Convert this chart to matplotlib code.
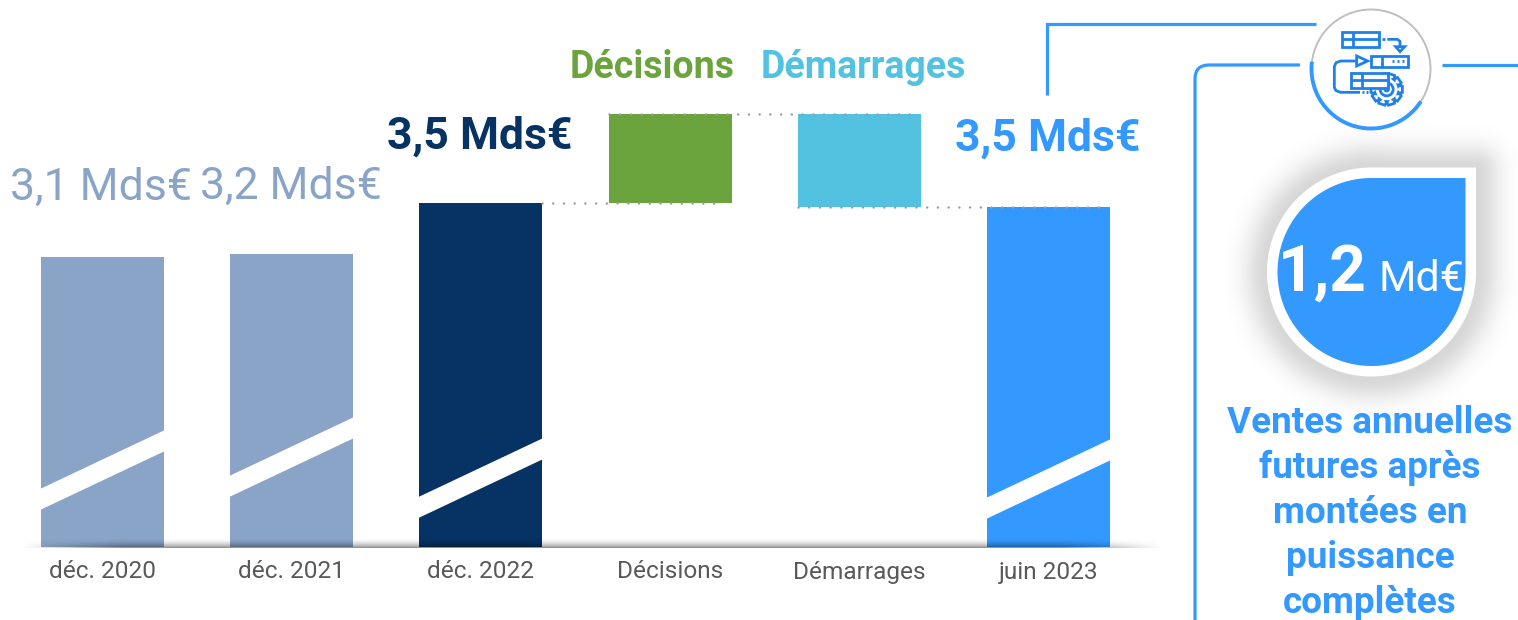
import numpy as np
import matplotlib
matplotlib.use("Agg")
import matplotlib.pyplot as plt
from matplotlib.patches import Polygon, Rectangle, Circle, Arc, PathPatch
from matplotlib.path import Path
from matplotlib.transforms import blended_transform_factory

plt.rcParams["font.family"] = ["Roboto", "DejaVu Sans"]

# Data
categories = ["déc. 2020", "déc. 2021", "déc. 2022", "Décisions", "Démarrages", "juin 2023"]
bar_heights = [3.14, 3.16, 3.50, 0.594, 0.62, 3.474]
bar_bottoms = [None, None, None, 3.50, 3.474, None]
bar_colors = ["#8AA4C8", "#8AA4C8", "#063264", "#6BA43C", "#52C2E0", "#3399FF"]
value_labels = ["3,1 Mds€", "3,2 Mds€", "3,5 Mds€", "3,5 Mds€"]
legend_labels = ["Décisions", "Démarrages"]
kpi_value = "1,2"
kpi_unit = "Md€"
kpi_text = ["Ventes annuelles", "futures après", "montées en", "puissance", "complètes"]

BLUE = "#3399FF"
ICON = "#1F80E8"
DOT = "#9C9C9C"

W, H = 1518, 620
fig = plt.figure(figsize=(W / 100, H / 100), dpi=100)

# chart axes, fills the figure; the y axis is cut so it starts at 1.207
ax = fig.add_axes([0, 0, 1, 1])
ax.set_xlim(-102.5 / 189.2, (W - 102.5) / 189.2)
ax.set_ylim(1.207 - 73 / 150, 1.207 + 547 / 150)
ax.axis("off")

# overlay in pixels for the decoration
px = fig.add_axes([0, 0, 1, 1], facecolor="none")
px.axis("off")

x = np.arange(len(categories))
base = 1.207
bottoms = [base if b is None else b for b in bar_bottoms]
heights = [h - base if b is None else h for h, b in zip(bar_heights, bar_bottoms)]
ax.bar(x, heights, bottom=bottoms, width=0.65, color=bar_colors, zorder=2)

# dotted connectors
top = bar_bottoms[3] + bar_heights[3]
dots = dict(color=DOT, lw=1.8, linestyle=(0, (0.01, 4.28)), dash_capstyle="round", zorder=3)
ax.plot([2.325, 3.27], [bar_heights[2]] * 2, **dots)
ax.plot([3 - 0.325, 4.32], [top, top], **dots)
ax.plot([4 - 0.325, 5.3], [bar_heights[5]] * 2, **dots)

# white slashes over the cut bars
stripe_tops = {0: 489, 1: 476, 2: 497, 5: 498}
mix = blended_transform_factory(ax.transData, px.transData)
for i, y0 in stripe_tops.items():
    xs = [i - 0.33, i + 0.33, i + 0.33, i - 0.33]
    ys = [y0, y0 - 59, y0 - 38, y0 + 21]
    ax.add_patch(Polygon(np.c_[xs, ys], closed=True, fc="white", ec="none", transform=mix, zorder=4))

# shadow on the baseline
gx = np.linspace(0, 1, 600)
gy = np.linspace(0, 1, 12) ** 2
fade = np.clip(np.minimum(gx / 0.09, (1 - gx) / 0.09), 0, 1)
rgba = np.zeros((12, 600, 4))
rgba[..., 3] = 0.42 * np.outer(gy, fade)
px.imshow(rgba, extent=(20, 1165, 548, 537), aspect="auto", zorder=5, interpolation="bilinear")

# labels
for i, cat in enumerate(categories):
    ax.text(i, 1.207 - 25 / 150, cat, ha="center", va="center", fontsize=17.6, color="#595959", zorder=6)

label_pos = [(101, 188), (291, 187), (480, 137), (1048, 139)]
label_style = [("#8AA4C8", "normal"), ("#8AA4C8", "normal"), ("#063264", "bold"), (BLUE, "bold")]
for lab, (lx, ly), (c, w) in zip(value_labels, label_pos, label_style):
    px.text(lx, ly, lab, ha="center", va="center", fontsize=32, color=c, fontweight=w, zorder=6)

px.text(652, 67, legend_labels[0], ha="center", va="center", fontsize=27, color="#6BA43C", fontweight="bold", zorder=6)
px.text(863.5, 67, legend_labels[1], ha="center", va="center", fontsize=27, color="#52C2E0", fontweight="bold", zorder=6)

# frame lines on the right
line = dict(color=BLUE, lw=2.3, solid_capstyle="butt", zorder=2)
px.plot([1047, 1047, 1316], [95, 24, 24], solid_joinstyle="miter", **line)
frame = Path([(1195, 620), (1195, 79), (1195, 65), (1209, 65), (1300, 65)],
             [Path.MOVETO, Path.LINETO, Path.CURVE3, Path.CURVE3, Path.LINETO])
px.add_patch(PathPatch(frame, fc="none", ec=BLUE, lw=2.3, capstyle="butt", zorder=2))
px.plot([1442, W], [65, 65], **line)

# icon circle
cx, cy, r = 1371, 69, 59.5
px.add_patch(Circle((cx, cy), r, fc="white", ec="#BFBFBF", lw=1.4, zorder=3))
# y axis is flipped, arc angles run clockwise on screen
px.add_patch(Arc((cx, cy), 2 * r, 2 * r, theta1=33, theta2=187, ec=BLUE, lw=2.8, zorder=4))


def Z(xz, yz):
    return (1180 + xz / 3, yz / 3)


def zline(pts, lw=2.0):
    p = [Z(*q) for q in pts]
    px.plot([a[0] for a in p], [a[1] for a in p], color=ICON, lw=lw, zorder=6, solid_capstyle="butt")


def ztable(x0, x1, y0, y1):
    a = Z(x0, y0)
    b = Z(x1, y1)
    px.add_patch(Rectangle(a, b[0] - a[0], b[1] - a[1], fc="white", ec=ICON, lw=2.0, zorder=6))


# gear
gc = Z(620, 268)
ang = np.linspace(0, 2 * np.pi, 10, endpoint=False)
gear = []
for a in ang:
    for da, rr in [(-0.36, 12.2), (-0.2, 16), (0.2, 16), (0.36, 12.2)]:
        gear.append((gc[0] + rr * np.cos(a + da), gc[1] + rr * np.sin(a + da)))
px.add_patch(Polygon(gear, closed=True, fc="white", ec=ICON, lw=2.0, zorder=5))
px.add_patch(Circle(gc, 6.5, fc="white", ec=ICON, lw=2.0, zorder=5))
px.add_patch(Circle(gc, 2, fc="white", ec=ICON, lw=1.6, zorder=5))

ztable(486, 598, 96, 141)
zline([(486, 118), (598, 118)])
zline([(520, 96), (520, 141)])
zline([(607, 118), (614, 118)])
zline([(622, 118), (652, 118), (660, 124), (660, 140)])
px.add_patch(Polygon([Z(647, 140), Z(674, 140), Z(660, 155)], closed=True, fc="white", ec=ICON, lw=2.0, zorder=6))

ztable(572, 685, 168, 200)
zline([(605, 168), (605, 200)])
for dx in (640, 654, 668):
    zline([(dx - 3, 184), (dx + 3, 184)])
px.add_patch(Polygon([Z(530, 168), Z(563, 183), Z(530, 198)], closed=True, fc="white", ec=ICON, lw=2.0, zorder=6))
zline([(530, 183), (482, 183), (468, 188), (463, 200), (463, 262), (468, 272), (482, 277), (540, 277)])
for dx in (548, 562):
    zline([(dx - 3, 277), (dx + 3, 277)])

ztable(512, 625, 218, 265)
zline([(512, 241), (625, 241)])
zline([(545, 218), (545, 265)])

# KPI drop, soft shadow first
kx, ky, kr = 1371.5, 272, 94
yy, xx = np.mgrid[120:425, 1225:1518]
d_circle = np.hypot(xx - kx, yy - ky) - 104
ox = np.maximum(np.maximum(kx - xx, xx - (kx + 104)), 0)
oy = np.maximum(np.maximum((ky - 103) - yy, yy - ky), 0)
dist = np.minimum(d_circle, np.hypot(ox, oy)).clip(0, None)
shadow = np.zeros(dist.shape + (4,))
shadow[..., 3] = 0.16 * np.exp(-((dist / 24.0) ** 2))
px.imshow(shadow, extent=(1225, 1518, 425, 120), aspect="auto", zorder=2.5, interpolation="bilinear")


def drop(rad, fc):
    t = np.radians(np.linspace(0, 270, 200))
    # from the right point clockwise on screen round to the top
    pts = [(kx + rad * np.cos(a), ky + rad * np.sin(a)) for a in t]
    pts.append((kx + rad, ky - rad))
    px.add_patch(Polygon(pts, closed=True, fc=fc, ec="none", zorder=3))


drop(104.5, "white")
drop(kr, BLUE)
px.text(1278, 291, kpi_value, ha="left", va="baseline", fontsize=46, color="white", fontweight="bold", zorder=6)
px.text(1378, 291, kpi_unit, ha="left", va="baseline", fontsize=31, color="white", zorder=6)

for n, t in enumerate(kpi_text):
    px.text(1370, 423 + 45 * n, t, ha="center", va="center", fontsize=26.6, color=BLUE, fontweight="bold", zorder=6)

px.set_xlim(0, W)
px.set_ylim(H, 0)

fig.savefig("out.png", dpi=100)
